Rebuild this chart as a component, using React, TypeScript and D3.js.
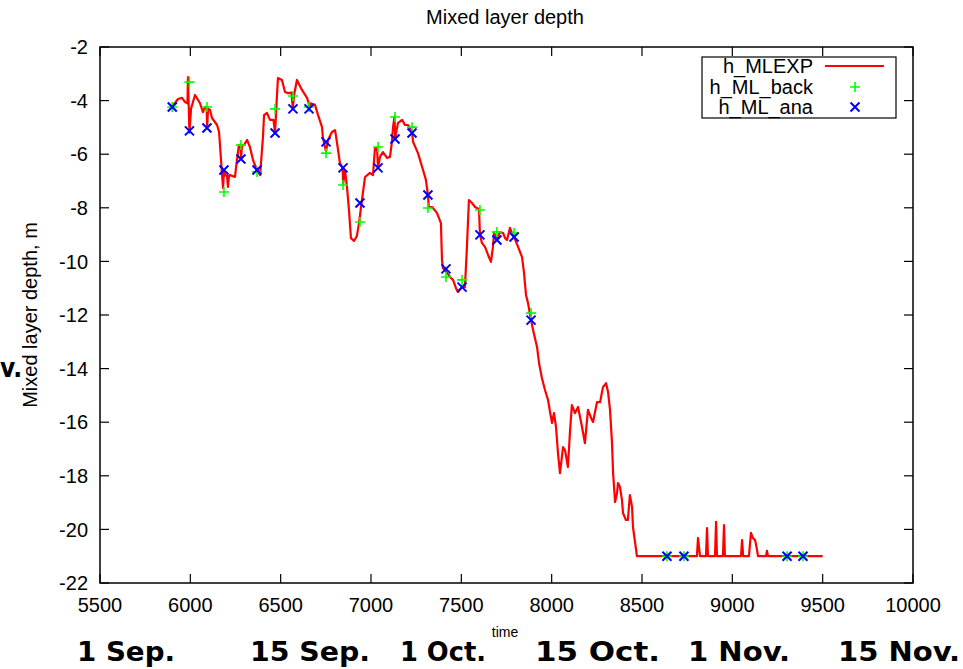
import React, { useEffect, useRef } from "react";
import * as d3 from "d3";

// axis ticks
const xTicks = [5500, 6000, 6500, 7000, 7500, 8000, 8500, 9000, 9500, 10000];
const yTicks = [-2, -4, -6, -8, -10, -12, -14, -16, -18, -20, -22];

// h_MLEXP trace [time, depth]
const mlexp: [number, number][] = [
  [5898, -4.24], [5932, -3.94], [5954, -3.9], [5970, -4.05], [5984, -4.1], [5987, -3.12],
  [5995, -5.2], [6004, -4.3], [6026, -3.79], [6053, -4.09], [6070, -4.43], [6081, -4.24],
  [6090, -4.25], [6093, -5.0], [6098, -4.3], [6109, -4.35], [6120, -4.65], [6148, -4.91],
  [6159, -5.17], [6170, -6.22], [6175, -6.7], [6181, -7.26], [6186, -6.65], [6192, -6.78],
  [6203, -6.8], [6208, -7.22], [6214, -6.8], [6220, -6.78], [6247, -6.85], [6258, -6.22],
  [6269, -5.66], [6278, -5.66], [6281, -6.15], [6286, -5.66], [6297, -5.66], [6314, -5.47],
  [6330, -5.73], [6347, -6.22], [6369, -6.59], [6386, -6.78], [6402, -5.36], [6408, -4.54],
  [6424, -4.46], [6441, -4.72], [6460, -4.72], [6469, -5.2], [6478, -4.0], [6485, -3.16],
  [6507, -3.23], [6524, -3.68], [6541, -3.72], [6560, -3.7], [6567, -4.3], [6574, -3.8],
  [6590, -3.23], [6618, -3.6], [6646, -3.9], [6655, -4.09], [6658, -4.3], [6666, -4.1],
  [6690, -4.16], [6707, -4.54], [6729, -4.99], [6734, -5.4], [6751, -5.9], [6762, -5.47],
  [6784, -5.17], [6801, -5.1], [6812, -5.58], [6828, -6.33], [6843, -6.51], [6846, -7.1],
  [6856, -6.59], [6867, -7.22], [6878, -8.08], [6889, -9.13], [6906, -9.24], [6922, -9.05],
  [6933, -8.6], [6945, -7.97], [6967, -6.85], [6994, -6.7], [7011, -6.78], [7022, -5.77],
  [7033, -5.75], [7039, -6.5], [7050, -6.1], [7066, -5.92], [7089, -6.14], [7105, -6.1],
  [7116, -5.54], [7122, -4.99], [7130, -4.6], [7134, -5.4], [7149, -4.84], [7172, -4.72],
  [7188, -4.91], [7205, -4.91], [7227, -5.17], [7233, -5.54], [7260, -5.96], [7288, -6.59],
  [7304, -6.96], [7315, -7.52], [7320, -7.97], [7338, -7.97], [7365, -8.19], [7387, -8.57],
  [7393, -9.95], [7398, -10.25], [7409, -10.32], [7437, -10.58], [7454, -10.69], [7470, -10.99],
  [7481, -11.14], [7504, -10.96], [7520, -10.96], [7531, -9.46], [7542, -7.71], [7559, -7.82],
  [7576, -7.97], [7598, -8.05], [7603, -9.0], [7614, -9.31], [7631, -9.46], [7648, -9.76],
  [7664, -10.02], [7675, -9.46], [7681, -8.94], [7697, -9.2], [7714, -8.9], [7731, -8.94],
  [7742, -9.13], [7753, -9.2], [7769, -8.75], [7780, -8.94], [7792, -9.09], [7814, -9.46],
  [7836, -9.84], [7847, -10.43], [7858, -11.25], [7869, -11.55], [7886, -12.19], [7897, -12.56],
  [7919, -13.19], [7930, -13.79], [7946, -14.35], [7963, -14.8], [7980, -15.17], [7991, -15.62],
  [8002, -16.03], [8013, -15.66], [8024, -16.18], [8035, -17.15], [8046, -17.9], [8063, -16.93],
  [8074, -17.04], [8090, -17.67], [8101, -16.4], [8112, -15.36], [8129, -15.66], [8146, -15.43],
  [8168, -16.18], [8184, -16.78], [8201, -15.54], [8223, -15.92], [8229, -15.99], [8251, -15.25],
  [8268, -15.25], [8284, -14.69], [8301, -14.54], [8312, -14.87], [8323, -15.54], [8334, -16.78],
  [8340, -17.9], [8351, -18.98], [8362, -18.64], [8367, -18.27], [8378, -18.42], [8389, -18.9],
  [8395, -19.39], [8411, -19.65], [8422, -19.65], [8433, -18.72], [8445, -19.16], [8450, -19.91],
  [8472, -21], [8804, -21], [8810, -20.32], [8821, -21], [8854, -21], [8860, -19.95],
  [8865, -21], [8904, -21], [8910, -19.72], [8915, -21], [8948, -21], [8954, -19.84],
  [8959, -21], [9048, -21], [9054, -20.4], [9060, -21], [9092, -21], [9103, -20.13],
  [9114, -20.32], [9126, -20.4], [9137, -20.77], [9142, -21], [9186, -21], [9192, -20.8],
  [9197, -21], [9500, -21],
];

// times of the background / analysis points
const markerTime = [
  5900, 5995, 6092, 6186, 6280, 6369, 6469, 6568, 6657, 6751, 6845, 6939, 7039,
  7133, 7227, 7315, 7415, 7504, 7603, 7697, 7792, 7886, 8638, 8732, 9303, 9391,
];
const backDepth = [
  -4.24, -3.31, -4.24, -7.41, -5.66, -6.66, -4.31, -3.83, -4.24, -5.96, -7.15, -8.53, -5.73,
  -4.61, -4.99, -8.01, -10.58, -10.69, -8.08, -8.9, -8.94, -11.93, -21, -21, -21, -21,
];
const anaDepth = [
  -4.24, -5.13, -5.02, -6.59, -6.18, -6.59, -5.21, -4.31, -4.31, -5.54, -6.51, -7.82, -6.51,
  -5.43, -5.21, -7.52, -10.28, -10.96, -9.01, -9.2, -9.09, -12.19, -21, -21, -21, -21,
];

const legendLabels = ["h_MLEXP", "h_ML_back", "h_ML_ana"];
const dateLabels = ["1 Sep.", "15 Sep.", "1 Oct.", "15 Oct.", "1 Nov.", "15 Nov."];

const W = 963;
const H = 669;
const margin = { top: 47, right: 50, bottom: 86, left: 100 };
const FONT = "'Liberation Sans', Arial, Helvetica, sans-serif";
const FS = 20;
const DATE_FONT = "'DejaVu Sans Condensed', 'DejaVu Sans', sans-serif";
// where the overlaid date labels sit (start x) and how wide they are
const dateX = [77, 250, 400, 535, 688, 838];
const dateW = [98, 120, 86, 125, 102, 122];

export default function App() {
  const svgRef = useRef<SVGSVGElement>(null);

  useEffect(() => {
    const svg = d3.select(svgRef.current);
    svg.selectAll("*").remove();

    const x0 = margin.left;
    const x1 = W - margin.right;
    const y0 = margin.top;
    const y1 = H - margin.bottom;

    const x = d3.scaleLinear().domain([5500, 10000]).range([x0, x1]);
    const y = d3.scaleLinear().domain([-2, -22]).range([y0, y1]);

    // title
    svg
      .append("text")
      .attr("x", 505)
      .attr("y", 24)
      .attr("text-anchor", "middle")
      .attr("font-family", FONT)
      .attr("font-size", FS)
      .text("Mixed layer depth");

    // frame
    svg
      .append("rect")
      .attr("x", x0)
      .attr("y", y0)
      .attr("width", x1 - x0)
      .attr("height", y1 - y0)
      .attr("fill", "none")
      .attr("stroke", "#000")
      .attr("stroke-width", 1.5);

    const tickLen = 9;
    const ticks = svg.append("g").attr("stroke", "#000").attr("stroke-width", 1.2);
    xTicks.forEach((t) => {
      ticks.append("line").attr("x1", x(t)).attr("x2", x(t)).attr("y1", y1).attr("y2", y1 - tickLen);
      ticks.append("line").attr("x1", x(t)).attr("x2", x(t)).attr("y1", y0).attr("y2", y0 + tickLen);
    });
    yTicks.forEach((v) => {
      ticks.append("line").attr("x1", x0).attr("x2", x0 + tickLen).attr("y1", y(v)).attr("y2", y(v));
      ticks.append("line").attr("x1", x1).attr("x2", x1 - tickLen).attr("y1", y(v)).attr("y2", y(v));
    });

    svg
      .append("g")
      .selectAll("text")
      .data(xTicks)
      .join("text")
      .attr("x", (d) => x(d))
      .attr("y", y1 + 29)
      .attr("text-anchor", "middle")
      .attr("font-family", FONT)
      .attr("font-size", FS)
      .text((d) => String(d));

    svg
      .append("g")
      .selectAll("text")
      .data(yTicks)
      .join("text")
      .attr("x", x0 - 12)
      .attr("y", (d) => y(d))
      .attr("dy", "0.36em")
      .attr("text-anchor", "end")
      .attr("font-family", FONT)
      .attr("font-size", FS)
      .text((d) => String(d));

    // axis titles
    svg
      .append("text")
      .attr("transform", `translate(37,${(y0 + y1) / 2}) rotate(-90)`)
      .attr("text-anchor", "middle")
      .attr("font-family", FONT)
      .attr("font-size", FS)
      .text("Mixed layer depth, m");

    svg
      .append("text")
      .attr("x", 505)
      .attr("y", 637)
      .attr("text-anchor", "middle")
      .attr("font-family", FONT)
      .attr("font-size", 14)
      .text("time");

    // data
    const line = d3
      .line<[number, number]>()
      .x((d) => x(d[0]))
      .y((d) => y(d[1]));

    svg
      .append("path")
      .datum(mlexp)
      .attr("d", line)
      .attr("fill", "none")
      .attr("stroke", "#ff0000")
      .attr("stroke-width", 2.2)
      .attr("stroke-linejoin", "round");

    const plus = (g: d3.Selection<SVGGElement, unknown, null, undefined>, cx: number, cy: number) => {
      g.append("path")
        .attr("d", `M${cx - 5},${cy}H${cx + 5}M${cx},${cy - 5}V${cy + 5}`)
        .attr("stroke", "#00ff00")
        .attr("stroke-width", 1.6)
        .attr("fill", "none");
    };
    const cross = (g: d3.Selection<SVGGElement, unknown, null, undefined>, cx: number, cy: number) => {
      g.append("path")
        .attr("d", `M${cx - 4.5},${cy - 4.5}L${cx + 4.5},${cy + 4.5}M${cx - 4.5},${cy + 4.5}L${cx + 4.5},${cy - 4.5}`)
        .attr("stroke", "#0000ff")
        .attr("stroke-width", 2)
        .attr("fill", "none");
    };

    const backG = svg.append("g");
    markerTime.forEach((t, i) => plus(backG, x(t), y(backDepth[i])));
    const anaG = svg.append("g");
    markerTime.forEach((t, i) => cross(anaG, x(t), y(anaDepth[i])));

    // legend
    const legend = svg.append("g");
    legend
      .append("rect")
      .attr("x", 702)
      .attr("y", 57)
      .attr("width", 194)
      .attr("height", 61)
      .attr("fill", "#fff")
      .attr("stroke", "#000")
      .attr("stroke-width", 1.2);
    const rowY = [66, 87, 107];
    legendLabels.forEach((label, i) => {
      legend
        .append("text")
        .attr("x", 813)
        .attr("y", rowY[i])
        .attr("dy", "0.36em")
        .attr("text-anchor", "end")
        .attr("font-family", FONT)
        .attr("font-size", FS)
        .text(label);
    });
    legend
      .append("line")
      .attr("x1", 825)
      .attr("x2", 884)
      .attr("y1", rowY[0])
      .attr("y2", rowY[0])
      .attr("stroke", "#ff0000")
      .attr("stroke-width", 2);
    plus(legend, 855, rowY[1]);
    cross(legend, 855, rowY[2]);

    // overlaid date labels
    dateLabels.forEach((label, i) => {
      svg
        .append("text")
        .attr("x", dateX[i])
        .attr("y", 661)
        .attr("font-family", DATE_FONT)
        .attr("font-weight", "bold")
        .attr("font-size", 26)
        .attr("textLength", dateW[i])
        .attr("lengthAdjust", "spacingAndGlyphs")
        .text(label);
    });
    // fragment that shows on the left edge
    svg
      .append("text")
      .attr("x", 0)
      .attr("y", 377)
      .attr("font-family", DATE_FONT)
      .attr("font-weight", "bold")
      .attr("font-size", 26)
      .text("v.");
  }, []);

  return (
    <svg
      ref={svgRef}
      width={W}
      height={H}
      style={{ position: "absolute", left: 0, top: 0, background: "#fff" }}
    />
  );
}
